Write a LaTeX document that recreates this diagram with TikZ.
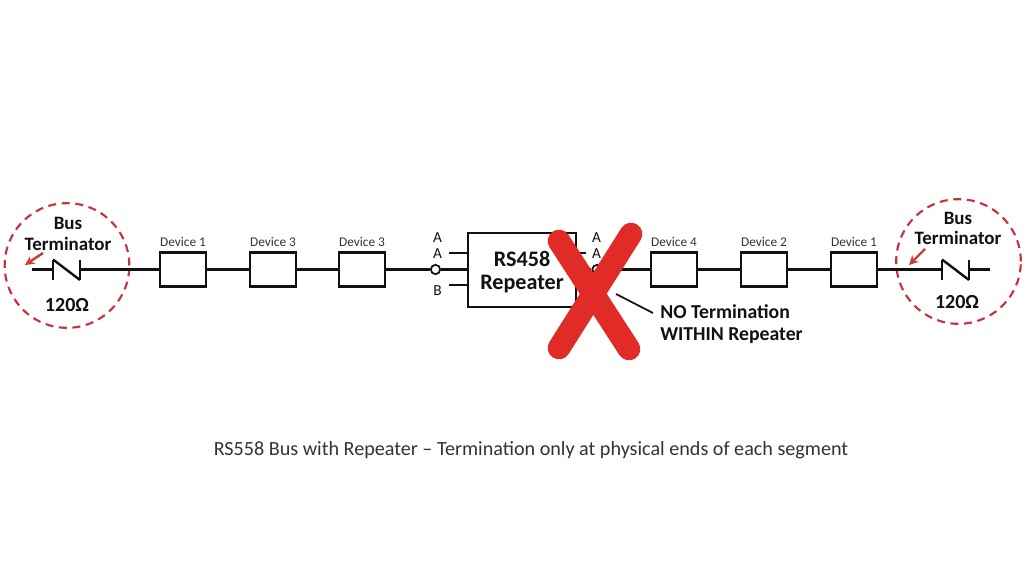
\documentclass[tikz,border=0pt]{standalone}
\usepackage{fontspec}
\setmainfont{Carlito}
\usetikzlibrary{arrows.meta}
\definecolor{dashred}{HTML}{C8323C}
\definecolor{arrowred}{HTML}{D03A35}
\definecolor{xred}{HTML}{E02B27}
\definecolor{ink}{HTML}{111111}
\definecolor{captionink}{HTML}{333333}
\tikzset{
  x=0.75pt,y=-0.75pt,
  wire/.style={draw=ink,line width=1.8pt},
  thinwire/.style={draw=ink,line width=1.3pt},
  device/.style={draw=ink,line width=1.8pt,fill=white,minimum width=34.5pt,minimum height=25.5pt,inner sep=0pt},
  devlabel/.style={font=\fontsize{10}{12}\selectfont,text=captionink,inner sep=0pt},
  pin/.style={circle,draw=ink,line width=1.3pt,fill=white,minimum size=7pt,inner sep=0pt},
  pinlabel/.style={font=\fontsize{11.5}{13}\selectfont,text=ink,inner sep=0pt},
  term/.style={font=\bfseries\fontsize{14.2}{16}\selectfont,text=ink,inner sep=0pt,align=center},
  ring/.style={circle,draw=dashred,line width=1.6pt,dash pattern=on 6pt off 4.2pt,inner sep=0pt,minimum size=93.5pt},
  redarrow/.style={draw=arrowred,line width=1.8pt,-{Stealth[length=7pt,width=7pt]}},
  xstroke/.style={draw=xred,line width=17pt,line cap=round},
}
\begin{document}
\begin{tikzpicture}
\useasboundingbox (0,0) rectangle (1024,585);
\fill[white] (0,0) rectangle (1024,585);
% rings
\node[ring] (ringL) at (67,265.5) {};
\node[ring] (ringR) at (958.5,261.5) {};
% left terminator
\coordinate (tl0) at (32,269.5);
\coordinate (tl1) at (53,269.5);
\coordinate (tl1a) at (53,259.5);
\coordinate (tl1b) at (53,280);
\coordinate (tl2) at (80,269.5);
\coordinate (tl2a) at (80,259.5);
\coordinate (tl2b) at (80,280);
% right terminator
\coordinate (tr1) at (942,269.5);
\coordinate (tr1a) at (942,259.5);
\coordinate (tr1b) at (942,280);
\coordinate (tr2) at (969,269.5);
\coordinate (tr2a) at (969,259.5);
\coordinate (tr2b) at (969,280);
\coordinate (tr3) at (990,269.5);
% devices
\node[device] (d1) at (183,269.5) {};
\node[device] (d2) at (273,269.5) {};
\node[device] (d3) at (362,269.5) {};
\node[device] (d4) at (674,269.5) {};
\node[device] (d5) at (764,269.5) {};
\node[device] (d6) at (854,269.5) {};
\node[devlabel] (ld1) at (183,241.5) {Device 1};
\node[devlabel] (ld2) at (273,241.5) {Device 3};
\node[devlabel] (ld3) at (362,241.5) {Device 3};
\node[devlabel] (ld4) at (674,241.5) {Device 4};
\node[devlabel] (ld5) at (764,241.5) {Device 2};
\node[devlabel] (ld6) at (854,241.5) {Device 1};
% repeater
\node[draw=ink,line width=1.8pt,fill=white,minimum width=81pt,minimum height=55.5pt,inner sep=0pt] (rep) at (522,270) {};
\node[inner sep=0pt,font=\bfseries\fontsize{16.6}{19.5}\selectfont,text=ink] (repa) at (522,259) {RS458};
\node[inner sep=0pt,font=\bfseries\fontsize{16.6}{19.5}\selectfont,text=ink] (repb) at (522,284.5) {Repeater};
% pins
\node[pin] (pL) at (435.5,269.5) {};
\node[pin] (pR) at (597,269.5) {};
% stubs
\coordinate (sLa) at (449,253);
\coordinate (sLb) at (449,285);
\coordinate (sRa) at (586,253);
\coordinate (sRb) at (590,285);
\draw[wire] (tl0) -- (tl1);
\draw[wire] (tl1a) -- (tl1b);
\draw[wire] (tl1a) -- (tl2b);
\draw[wire] (tl2a) -- (tl2b);
\draw[wire] (tl2) -- (d1);
\draw[wire] (d1) -- (d2);
\draw[wire] (d2) -- (d3);
\draw[wire] (d3) -- (pL);
\draw[wire] (pL) -- (pL -| rep.west);
\draw[wire] (sLa) -- (sLa -| rep.west);
\draw[wire] (sLb) -- (sLb -| rep.west);
\draw[wire] (sRa) -- (sRa -| rep.east);
\draw[wire] (sRb) -- (sRb -| rep.east);
\draw[wire] (pR) -- (pR -| rep.east);
\draw[wire] (pR) -- (d4);
\draw[wire] (d4) -- (d5);
\draw[wire] (d5) -- (d6);
\draw[wire] (d6) -- (tr1);
\draw[wire] (tr1a) -- (tr1b);
\draw[wire] (tr1a) -- (tr2b);
\draw[wire] (tr2a) -- (tr2b);
\draw[wire] (tr2) -- (tr3);
% pin labels
\node[pinlabel] (a1) at (437.5,238) {A};
\node[pinlabel] (a2) at (437.5,254) {A};
\node[pinlabel] (b1) at (437.5,291) {B};
\node[pinlabel] (a3) at (596.5,238) {A};
\node[pinlabel] (a4) at (596.5,254) {A};
% terminator labels
\node[term] (busL) at (68,223) {Bus};
\node[term] (termL) at (68,244) {Terminator};
\node[term,font=\bfseries\fontsize{15}{16}\selectfont] (ohmL) at (67,305) {120Ω};
\node[term] (busR) at (958,218) {Bus};
\node[term] (termR) at (958,238) {Terminator};
\node[term,font=\bfseries\fontsize{15}{16}\selectfont] (ohmR) at (957,302) {120Ω};
% red arrows
\coordinate (al0) at (43,253);
\coordinate (al1) at (25,265);
\coordinate (ar0) at (925,249);
\coordinate (ar1) at (909,265);
\draw[redarrow] (al0) -- (al1);
\draw[redarrow] (ar0) -- (ar1);
% X
\coordinate (x1) at (559,241);
\coordinate (x2) at (629,349);
\coordinate (x3) at (631,234);
\coordinate (x4) at (559,348);
\draw[xstroke] (x1) -- (x2);
\draw[xstroke] (x3) -- (x4);
% note
\node[term,anchor=west,font=\bfseries\fontsize{14.8}{16.5}\selectfont,align=left] (note) at (660,324) {NO Termination\\WITHIN Repeater};
\coordinate (lead) at (616,294);
\draw[thinwire] (lead) -- (653,313);
% caption
\node[inner sep=0pt,font=\fontsize{15.1}{17}\selectfont,text=captionink] (cap) at (531,450) {RS558 Bus with Repeater – Termination only at physical ends of each segment};
\end{tikzpicture}
\end{document}
